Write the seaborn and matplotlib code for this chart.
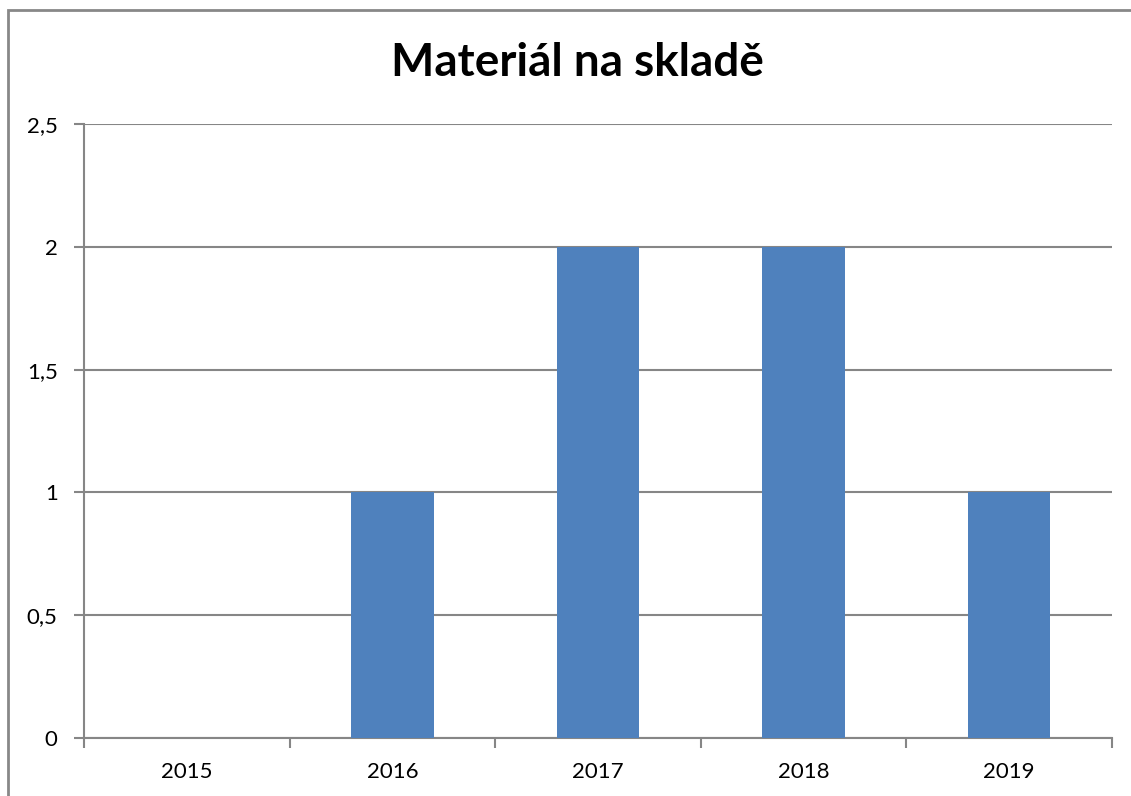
import matplotlib
matplotlib.use('Agg')
import matplotlib.pyplot as plt
import seaborn as sns
import pandas as pd
from matplotlib.ticker import FuncFormatter, FixedLocator
from matplotlib.patches import Rectangle

# Data
years = ['2015', '2016', '2017', '2018', '2019']
counts = [0, 1, 2, 2, 1]
title = 'Materiál na skladě'

BAR_COLOR = '#4F81BD'
GRID_COLOR = '#868686'

sns.set_style('white')
plt.rcParams['font.family'] = ['Lato', 'DejaVu Sans']

df = pd.DataFrame({'Rok': years, 'Počet': counts})

fig = plt.figure(figsize=(11.31, 7.96), dpi=100)
ax = fig.add_axes([84 / 1131, 58 / 796, 1028 / 1131, 614 / 796])

sns.barplot(data=df, x='Rok', y='Počet', color=BAR_COLOR, width=0.4,
            saturation=1, linewidth=0, ax=ax, zorder=3)

ax.set_xlim(-0.5, len(years) - 0.5)
ax.set_ylim(0, 2.5)
ax.set_yticks([0, 0.5, 1, 1.5, 2, 2.5])
ax.yaxis.set_major_formatter(FuncFormatter(lambda v, p: f'{v:g}'.replace('.', ',')))

# Excel-style gridlines and axis lines
ax.grid(axis='y', color=GRID_COLOR, linewidth=1.5, zorder=0)
ax.set_axisbelow(True)
for side in ['top', 'right']:
    ax.spines[side].set_visible(False)
for side in ['left', 'bottom']:
    ax.spines[side].set_color(GRID_COLOR)
    ax.spines[side].set_linewidth(1.5)

# tick marks between categories
ax.xaxis.set_minor_locator(FixedLocator([i - 0.5 for i in range(len(years) + 1)]))
ax.tick_params(axis='x', which='major', bottom=True, length=0, pad=17, labelsize=16,
               labelcolor='black')
ax.tick_params(axis='x', which='minor', bottom=True, length=7, width=1.5,
               color=GRID_COLOR, direction='out')
ax.tick_params(axis='y', left=True, length=7, width=1.5, color=GRID_COLOR,
               direction='out', pad=12, labelsize=16, labelcolor='black')

ax.set_xlabel('')
ax.set_ylabel('')

fig.text(577 / 1131, 1 - 63 / 796, title, ha='center', va='center',
         fontsize=33, fontweight='bold', color='black')

# chart frame (cropped at right and bottom)
fig.patches.append(Rectangle((8 / 1131, -0.1), 1.2, 1.1 - 10 / 796,
                             transform=fig.transFigure, fill=False,
                             edgecolor='#888888', linewidth=2))

fig.savefig('out.png', dpi=100)
